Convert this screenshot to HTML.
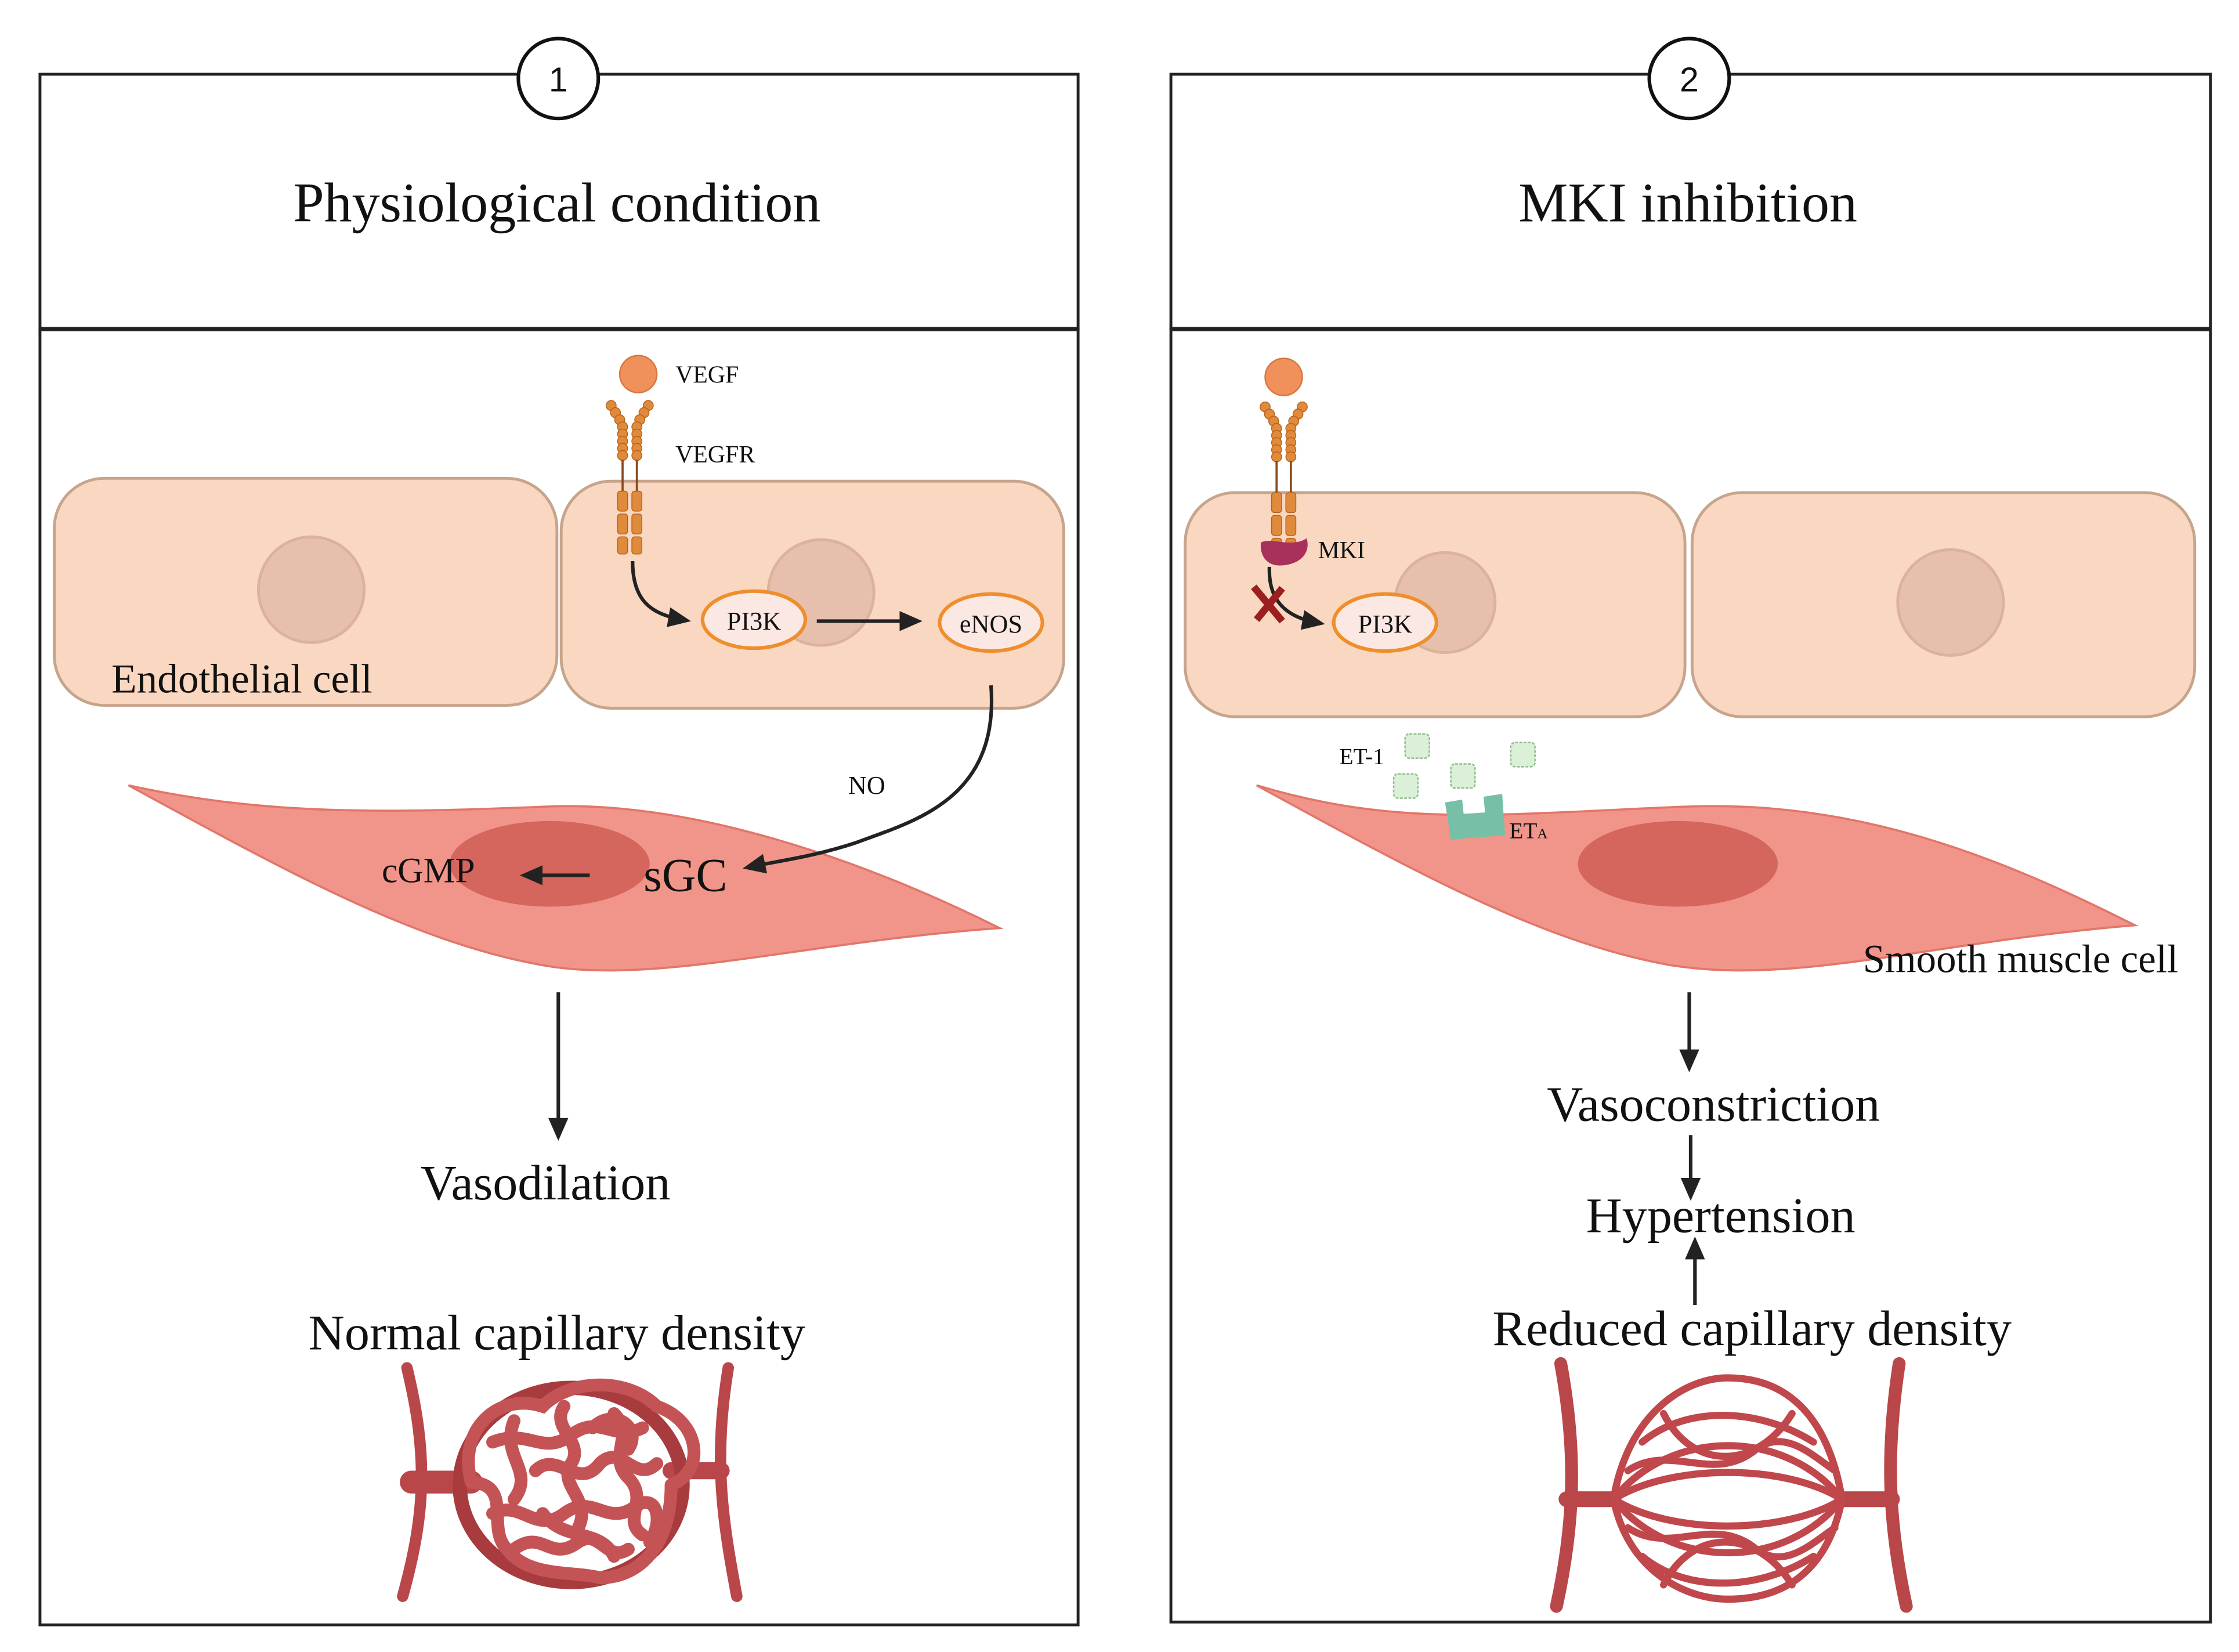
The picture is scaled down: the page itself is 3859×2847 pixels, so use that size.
<!DOCTYPE html>
<html><head><meta charset="utf-8"><style>
html,body{margin:0;padding:0;background:#fff}
svg{display:block}
text{font-family:"Liberation Serif",serif;fill:#111}
</style></head><body>
<svg width="3859" height="2847" viewBox="0 0 1568 1157" preserveAspectRatio="none" xmlns="http://www.w3.org/2000/svg">
<defs>
<marker id="ah2" markerWidth="16" markerHeight="14" refX="10" refY="7" orient="auto" markerUnits="userSpaceOnUse"><path d="M0,0 L16,7 L0,14 z" fill="#222"/></marker>
<g id="rec">
 <g fill="#e08a3c" stroke="#b8621a" stroke-width="0.6">
  <circle cx="-13" cy="0" r="3.5"/><circle cx="-10" cy="5" r="3.5"/><circle cx="-7" cy="10" r="3.5"/><circle cx="-5" cy="15" r="3.5"/><circle cx="-5" cy="20" r="3.5"/><circle cx="-5" cy="25" r="3.5"/><circle cx="-5" cy="30" r="3.5"/><circle cx="-5" cy="35" r="3.5"/>
  <circle cx="13" cy="0" r="3.5"/><circle cx="10" cy="5" r="3.5"/><circle cx="7" cy="10" r="3.5"/><circle cx="5" cy="15" r="3.5"/><circle cx="5" cy="20" r="3.5"/><circle cx="5" cy="25" r="3.5"/><circle cx="5" cy="30" r="3.5"/><circle cx="5" cy="35" r="3.5"/>
 </g>
 <line x1="-5" y1="38" x2="-5" y2="60" stroke="#8a4a1a" stroke-width="1.5"/><line x1="5" y1="38" x2="5" y2="60" stroke="#8a4a1a" stroke-width="1.5"/>
 <g fill="#e08a3c" stroke="#b8621a" stroke-width="0.6">
  <rect x="-8.5" y="60" width="7" height="14" rx="2"/><rect x="-8.5" y="76" width="7" height="14" rx="2"/><rect x="-8.5" y="92" width="7" height="12" rx="2"/>
  <rect x="1.5" y="60" width="7" height="14" rx="2"/><rect x="1.5" y="76" width="7" height="14" rx="2"/><rect x="1.5" y="92" width="7" height="12" rx="2"/>
 </g>
</g>
</defs>
<rect width="1568" height="1157" fill="#fff"/>

<g fill="none" stroke="#222" stroke-width="2">
<rect x="28" y="52" width="727" height="178"/>
<rect x="28" y="231" width="727" height="907"/>
<rect x="820" y="52" width="728" height="178"/>
<rect x="820" y="231" width="728" height="905"/>
</g>
<circle cx="391" cy="55" r="28" fill="#fff" stroke="#111" stroke-width="2.5"/>
<text x="391" y="64" font-size="24" text-anchor="middle" style="font-family:'Liberation Sans',sans-serif">1</text>
<circle cx="1183" cy="55" r="28" fill="#fff" stroke="#111" stroke-width="2.5"/>
<text x="1183" y="64" font-size="24" text-anchor="middle" style="font-family:'Liberation Sans',sans-serif">2</text>
<text x="390" y="155" font-size="39" text-anchor="middle">Physiological condition</text>
<text x="1182" y="155" font-size="39" text-anchor="middle">MKI inhibition</text>

<rect x="38" y="335" width="352" height="159" rx="35" fill="#f9d7c1" stroke="#c7a48c" stroke-width="2"/>
<rect x="393" y="337" width="352" height="159" rx="35" fill="#f9d7c1" stroke="#c7a48c" stroke-width="2"/>
<circle cx="218" cy="413" r="37" fill="#e7c0ad" stroke="#dab29e" stroke-width="2"/>
<circle cx="575" cy="415" r="37" fill="#e7c0ad" stroke="#dab29e" stroke-width="2"/>
<text x="78" y="485" font-size="29">Endothelial cell</text>
<circle cx="447" cy="262" r="13" fill="#f0905a" stroke="#d8763e"/>
<use href="#rec" x="441" y="284"/>
<text x="473" y="268" font-size="17">VEGF</text>
<text x="473" y="324" font-size="17">VEGFR</text>
<path d="M443,393 C443,420 455,430 478,434" fill="none" stroke="#222" stroke-width="2.5" marker-end="url(#ah2)"/>
<ellipse cx="528" cy="434" rx="36" ry="20" fill="#fbe8e2" stroke="#ee8e2c" stroke-width="2.5"/>
<text x="528" y="441" font-size="18" text-anchor="middle">PI3K</text>
<line x1="572" y1="435" x2="640" y2="435" stroke="#222" stroke-width="2.5" marker-end="url(#ah2)"/>
<ellipse cx="694" cy="436" rx="36" ry="20" fill="#fbe8e2" stroke="#ee8e2c" stroke-width="2.5"/>
<text x="694" y="443" font-size="18" text-anchor="middle">eNOS</text>
<path d="M90,550 C200,610 290,660 380,676 C460,690 560,660 700,650 C600,600 480,560 380,565 C260,570 180,570 90,550 z" fill="#f1958a" stroke="#e2766a" stroke-width="1.5"/>
<ellipse cx="385" cy="605" rx="70" ry="30" fill="#d5665d"/>
<text x="300" y="618" font-size="25" text-anchor="middle">cGMP</text>
<line x1="413" y1="613" x2="370" y2="613" stroke="#222" stroke-width="2.5" marker-end="url(#ah2)"/>
<text x="480" y="624" font-size="33" text-anchor="middle">sGC</text>
<path d="M694,480 C700,560 640,575 600,590 C570,600 545,603 526,607" fill="none" stroke="#222" stroke-width="2.5" marker-end="url(#ah2)"/>
<text x="607" y="556" font-size="18" text-anchor="middle">NO</text>
<line x1="391" y1="695" x2="391" y2="793" stroke="#222" stroke-width="2.5" marker-end="url(#ah2)"/>
<text x="382" y="840" font-size="35" text-anchor="middle">Vasodilation</text>
<text x="390" y="945" font-size="35" text-anchor="middle">Normal capillary density</text>

<g fill="none" stroke="#b9474a" stroke-linecap="round">
<path d="M285,958 C300,1020 298,1060 282,1118" stroke-width="8"/>
<path d="M510,958 C500,1020 505,1060 516,1118" stroke-width="8"/>
<path d="M288,1038 L330,1038" stroke-width="16"/>
<path d="M505,1030 L470,1030" stroke-width="12"/>
<ellipse cx="400" cy="1040" rx="78" ry="68" stroke="#a83b3e" stroke-width="10"/>
<g stroke="#c45356" stroke-width="9">
<path d="M330,1038 C320,1000 350,975 380,985 C400,965 440,965 460,985 C490,995 495,1030 470,1040"/>
<path d="M330,1038 C360,1040 340,1070 355,1085 C370,1105 400,1100 420,1105 C450,1105 470,1080 470,1040"/>
<path d="M345,1010 C370,1000 380,1020 400,1005 C420,990 430,1010 450,1000"/>
<path d="M345,1060 C365,1050 375,1075 395,1060 C415,1045 425,1070 445,1055 C460,1045 465,1065 455,1080"/>
<path d="M375,1030 C390,1015 405,1045 420,1025 C435,1010 445,1040 460,1025"/>
<path d="M360,1085 C380,1070 385,1095 405,1080 C420,1070 425,1095 440,1085"/>
<path d="M395,985 C385,1000 410,1010 400,1025 C390,1040 415,1050 405,1070"/>
<path d="M430,990 C445,1005 425,1020 440,1035 C455,1050 435,1065 450,1075"/>
<path d="M360,995 C350,1020 375,1030 360,1050"/>
<path d="M415,1000 C430,985 450,1000 440,1015"/>
<path d="M380,1060 C395,1080 420,1070 430,1090"/>
</g>
</g>

<rect x="830" y="345" width="350" height="157" rx="35" fill="#f9d7c1" stroke="#c7a48c" stroke-width="2"/>
<rect x="1185" y="345" width="352" height="157" rx="35" fill="#f9d7c1" stroke="#c7a48c" stroke-width="2"/>
<circle cx="1012" cy="422" r="35" fill="#e7c0ad" stroke="#dab29e" stroke-width="2"/>
<circle cx="1366" cy="422" r="37" fill="#e7c0ad" stroke="#dab29e" stroke-width="2"/>
<circle cx="899" cy="264" r="13" fill="#f0905a" stroke="#d8763e"/>
<use href="#rec" x="899" y="285"/>
<path d="M883,380 C890,376 905,384 915,377 C918,386 912,395 898,396 C888,397 882,390 883,380 z" fill="#a8305a"/>
<text x="923" y="391" font-size="17">MKI</text>
<path d="M889,397 C888,420 900,432 922,436" fill="none" stroke="#222" stroke-width="2.5" marker-end="url(#ah2)"/>
<path d="M878,411 L898,435 M898,412 L880,434" stroke="#9b1f1f" stroke-width="5"/>
<ellipse cx="970" cy="436" rx="36" ry="20" fill="#fbe8e2" stroke="#ee8e2c" stroke-width="2.5"/>
<text x="970" y="443" font-size="18" text-anchor="middle">PI3K</text>
<path d="M880,550 C990,610 1080,660 1170,676 C1260,690 1350,660 1495,648 C1400,600 1300,560 1180,565 C1050,570 980,580 880,550 z" fill="#f1958a" stroke="#e2766a" stroke-width="1.5"/>
<ellipse cx="1175" cy="605" rx="70" ry="30" fill="#d5665d"/>
<g fill="#dcefd8" stroke="#8fbf8a" stroke-width="1" stroke-dasharray="2,1">
<rect x="984" y="514" width="17" height="17" rx="3"/>
<rect x="976" y="542" width="17" height="17" rx="3"/>
<rect x="1016" y="535" width="17" height="17" rx="3"/>
<rect x="1058" y="520" width="17" height="17" rx="3"/>
</g>
<path d="M1012,562 L1024,560 L1025,570 L1040,569 L1039,558 L1052,556 L1054,585 L1016,588 z" fill="#77bfa6"/>
<text x="938" y="535" font-size="16">ET-1</text>
<text x="1057" y="587" font-size="16">ET<tspan font-size="10">A</tspan></text>
<text x="1415" y="681" font-size="28" text-anchor="middle">Smooth muscle cell</text>
<line x1="1183" y1="695" x2="1183" y2="745" stroke="#222" stroke-width="2.5" marker-end="url(#ah2)"/>
<text x="1200" y="785" font-size="35" text-anchor="middle">Vasoconstriction</text>
<line x1="1184" y1="795" x2="1184" y2="835" stroke="#222" stroke-width="2.5" marker-end="url(#ah2)"/>
<text x="1205" y="863" font-size="35" text-anchor="middle">Hypertension</text>
<line x1="1187" y1="914" x2="1187" y2="872" stroke="#222" stroke-width="2.5" marker-end="url(#ah2)"/>
<text x="1227" y="942" font-size="35" text-anchor="middle">Reduced capillary density</text>

<g fill="none" stroke="#b9474a" stroke-linecap="round">
<path d="M1093,955 C1105,1020 1102,1070 1090,1125" stroke-width="9"/>
<path d="M1330,955 C1320,1020 1323,1070 1335,1125" stroke-width="9"/>
<path d="M1097,1050 L1130,1050" stroke-width="11"/>
<path d="M1325,1050 L1290,1050" stroke-width="11"/>
<g stroke="#c0474b" stroke-width="5">
<path d="M1130,1050 C1140,990 1180,965 1210,965 C1250,965 1280,990 1290,1050"/>
<path d="M1130,1050 C1140,1100 1180,1120 1210,1120 C1250,1120 1280,1100 1290,1050"/>
<path d="M1130,1050 C1170,1000 1250,1000 1290,1050"/>
<path d="M1130,1050 C1170,1100 1250,1100 1290,1050"/>
<path d="M1130,1050 C1170,1025 1250,1025 1290,1050"/>
<path d="M1130,1050 C1170,1075 1250,1075 1290,1050"/>
<path d="M1150,1010 C1180,985 1230,985 1270,1010"/>
<path d="M1150,1090 C1180,1115 1230,1115 1270,1090"/>
<path d="M1165,990 C1185,1030 1230,1030 1255,990"/>
<path d="M1165,1110 C1185,1070 1230,1070 1255,1110"/>
<path d="M1140,1030 C1170,1010 1200,1040 1230,1015 C1250,1000 1270,1020 1285,1030"/>
<path d="M1140,1070 C1170,1090 1200,1060 1230,1085 C1250,1100 1270,1080 1285,1070"/>
</g>
</g>
</svg>
</body></html>
